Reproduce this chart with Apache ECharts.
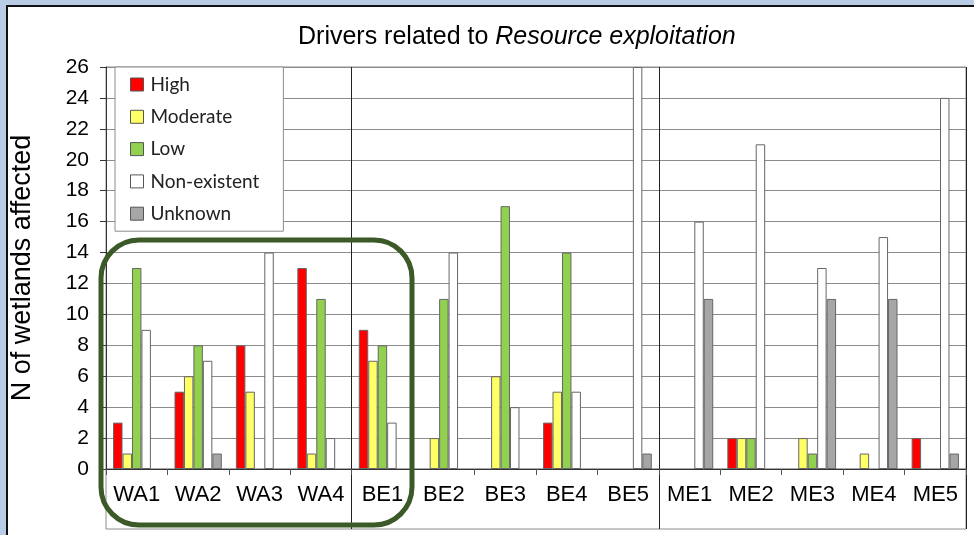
<!DOCTYPE html>
<html>
<head>
<meta charset="utf-8">
<script src="https://cdn.jsdelivr.net/npm/echarts@6/dist/echarts.min.js"></script>
<style>
  html, body { margin: 0; padding: 0; background: #B8CCE6; }
  #chart { width: 974px; height: 535px; }
</style>
</head>
<body>
<div id="chart"></div>
<script>
// wetland sites, grouped WA / BE / ME
const categories = ['WA1', 'WA2', 'WA3', 'WA4', 'BE1', 'BE2', 'BE3', 'BE4', 'BE5', 'ME1', 'ME2', 'ME3', 'ME4', 'ME5'];
const yTicks = { min: 0, max: 26, interval: 2 };

// number of wetlands per level of impact
const high        = [3, 5, 8, 13, 9, 0, 0, 3, 0, 0, 2, 0, 0, 2];
const moderate    = [1, 6, 5, 1, 7, 2, 6, 5, 0, 0, 2, 2, 1, 0];
const low         = [13, 8, 0, 11, 8, 11, 17, 14, 0, 0, 2, 1, 0, 0];
const nonExistent = [9, 7, 14, 2, 3, 14, 4, 5, 26, 16, 21, 13, 15, 24];
const unknown     = [0, 1, 0, 0, 0, 0, 0, 0, 1, 11, 0, 11, 11, 1];

const seriesDefs = [
    { name: 'High', data: high, color: '#FF0000' },
    { name: 'Moderate', data: moderate, color: '#FFFF66' },
    { name: 'Low', data: low, color: '#92D050' },
    { name: 'Non-existent', data: nonExistent, color: '#FFFFFF' },
    { name: 'Unknown', data: unknown, color: '#A6A6A6' }
];

// group separators sit before BE1 and ME1
const groupStarts = [4, 9];
const isGroupStart = (idx) => groupStarts.indexOf(idx) >= 0;

const FONT = '"Liberation Sans", Arial, sans-serif';
const chart = echarts.init(document.getElementById('chart'));

chart.setOption({
    backgroundColor: '#B8CCE6',
    animation: false,
    title: {
        text: '{n|Drivers related to }{i|Resource exploitation}',
        left: 293,
        top: 20,
        textStyle: {
            fontWeight: 'normal',
            rich: {
                n: { fontFamily: FONT, fontSize: 25, color: '#000', fontWeight: 'normal' },
                i: { fontFamily: FONT, fontSize: 25, color: '#000', fontWeight: 'normal', fontStyle: 'italic' }
            }
        }
    },
    graphic: [
        {
            type: 'rect',
            z: -10,
            shape: { x: 7, y: 6, width: 990, height: 560 },
            style: { fill: '#fff', stroke: '#111', lineWidth: 2 }
        },
        {
            type: 'rect',
            z: 100,
            shape: { x: 101, y: 240, width: 311, height: 285, r: 38 },
            style: { fill: 'none', stroke: '#3B5A27', lineWidth: 5 }
        }
    ],
    legend: {
        orient: 'vertical',
        left: 115,
        top: 67,
        width: 140,
        padding: [8, 24, 8, 15],
        itemGap: 13.3,
        itemWidth: 13,
        itemHeight: 13,
        icon: 'rect',
        backgroundColor: '#fff',
        borderColor: '#8c8c8c',
        borderWidth: 1,
        itemStyle: { borderColor: '#555', borderWidth: 1 },
        textStyle: { fontFamily: 'Lato, "Open Sans", sans-serif', fontSize: 19, color: '#222', padding: [0, 0, 0, 2] },
        data: seriesDefs.map(s => s.name)
    },
    grid: [
        { left: 106, right: 8, top: 67, bottom: 66, show: true, borderColor: '#8c8c8c', borderWidth: 1, backgroundColor: 'transparent' },
        { left: 106, right: 8, top: 469, height: 60, show: true, borderColor: '#8c8c8c', borderWidth: 1, backgroundColor: 'transparent' }
    ],
    xAxis: [
        {
            type: 'category',
            data: categories,
            gridIndex: 0,
            axisLine: { lineStyle: { color: '#333', width: 1 } },
            axisTick: { show: true, length: 6, lineStyle: { color: '#555' } },
            axisLabel: { fontFamily: FONT, fontSize: 22, color: '#000', margin: 15, interval: 0 },
            splitLine: { show: true, interval: (idx) => isGroupStart(idx), lineStyle: { color: '#222', width: 1 } }
        },
        {
            type: 'category',
            data: categories,
            gridIndex: 1,
            axisLine: { show: false },
            axisTick: { show: false },
            axisLabel: { show: false },
            splitLine: { show: true, interval: (idx) => isGroupStart(idx), lineStyle: { color: '#222', width: 1 } }
        }
    ],
    yAxis: [
        {
            type: 'value',
            gridIndex: 0,
            min: yTicks.min,
            max: yTicks.max,
            interval: yTicks.interval,
            name: 'N of wetlands affected',
            nameLocation: 'middle',
            nameGap: 70,
            nameTextStyle: { fontFamily: FONT, fontSize: 27, color: '#000' },
            axisLine: { show: true, lineStyle: { color: '#333' } },
            axisTick: { show: true, length: 6, lineStyle: { color: '#333' } },
            axisLabel: { fontFamily: FONT, fontSize: 21, color: '#000', margin: 17 },
            splitLine: { show: true, lineStyle: { color: '#8c8c8c', width: 1 } }
        },
        { type: 'value', gridIndex: 1, show: false, splitLine: { show: false } }
    ],
    series: seriesDefs.map(s => ({
        name: s.name,
        type: 'bar',
        xAxisIndex: 0,
        yAxisIndex: 0,
        // zero counts leave no mark, as in the original
        data: s.data.map(v => (v === 0 ? '-' : v)),
        barGap: '0%',
        barCategoryGap: '23%',
        itemStyle: { color: s.color, borderColor: '#666', borderWidth: 1 }
    }))
});
</script>
</body>
</html>
